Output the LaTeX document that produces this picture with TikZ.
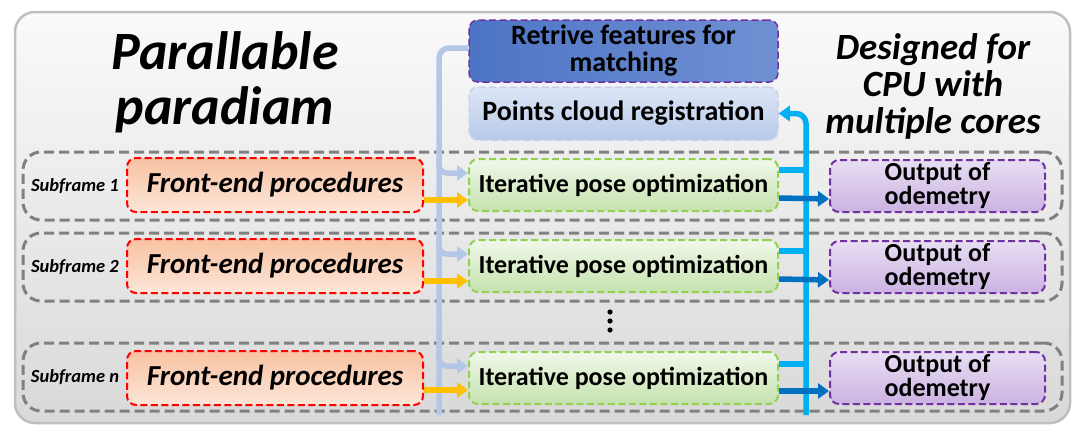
\documentclass[tikz,border=0pt]{standalone}
\usepackage{fontspec}
\setmainfont{Carlito}
\usetikzlibrary{arrows.meta}
\definecolor{framegray}{HTML}{BFBFBF}
\definecolor{subgray}{HTML}{808080}
\definecolor{lightblu}{HTML}{B4C7E7}
\definecolor{cyanblu}{HTML}{00B0F0}
\definecolor{darkblu}{HTML}{0070C0}
\definecolor{amber}{HTML}{FFC000}
\definecolor{redline}{HTML}{FF0000}
\definecolor{greenline}{HTML}{92D050}
\definecolor{purpline}{HTML}{7030A0}
\definecolor{feTop}{HTML}{F8C2A2}
\definecolor{feBot}{HTML}{FCE6D8}
\definecolor{itTop}{HTML}{F0F8EA}
\definecolor{itBot}{HTML}{C6E2AE}
\definecolor{outTop}{HTML}{E8DEF3}
\definecolor{outBot}{HTML}{CBB3E2}
\definecolor{retDark}{HTML}{4D74C5}
\definecolor{retLight}{HTML}{B6C8EA}
\definecolor{retRight}{HTML}{7090D3}
\definecolor{pcrTop}{HTML}{DDE6F5}
\definecolor{pcrBot}{HTML}{B7C9EA}
\definecolor{pcrEdge}{HTML}{C8D3E8}
\begin{document}
\begin{tikzpicture}[x=1pt, y=-1pt,
  framebox/.style={draw=framegray, line width=2.5pt, rounded corners=20pt, top color=gray!4, bottom color=gray!30},
  subbox/.style={draw=subgray, rounded corners=18pt, dash pattern=on 10pt off 5pt, line width=3pt, minimum width=1039pt, minimum height=68pt, inner sep=0pt},
  boxbase/.style={rounded corners=9pt, dash pattern=on 7pt off 3.5pt, line width=2pt, inner sep=0pt, align=center},
  febox/.style={boxbase, draw=redline, top color=feTop, bottom color=feBot, minimum width=296pt, minimum height=54pt, font=\fontsize{29}{31}\selectfont\bfseries\itshape},
  itbox/.style={boxbase, draw=greenline, top color=itTop, bottom color=itBot, minimum width=309pt, minimum height=52pt, font=\fontsize{26}{28}\selectfont\bfseries},
  outbox/.style={boxbase, draw=purpline, top color=outTop, bottom color=outBot, minimum width=215pt, minimum height=52pt, font=\fontsize{26}{24}\selectfont\bfseries},
  retbox/.style={boxbase, line width=1.5pt, draw=purpline, left color=retDark, middle color=retLight, right color=retRight, minimum width=309pt, minimum height=62pt, font=\fontsize{28}{27}\selectfont\bfseries},
  pcrbox/.style={boxbase, line width=1.5pt, draw=pcrEdge, top color=pcrTop, bottom color=pcrBot, minimum width=309pt, minimum height=53pt, font=\fontsize{28}{30}\selectfont\bfseries},
  sublabel/.style={font=\fontsize{18.5}{20}\selectfont\bfseries\itshape, inner sep=0pt},
  bigtitle/.style={align=center, font=\fontsize{54}{55}\selectfont\bfseries\itshape},
  cputitle/.style={align=center, font=\fontsize{37}{37}\selectfont\bfseries\itshape},
  lbline/.style={draw=lightblu, line width=5.5pt},
  lbarrow/.style={lbline, -{Triangle[length=11pt,width=15pt]}},
  cyline/.style={draw=cyanblu, line width=5.5pt},
  cyarrow/.style={cyline, -{Triangle[length=11pt,width=15pt]}},
  dbarrow/.style={draw=darkblu, line width=5.5pt, -{Triangle[length=11pt,width=15pt]}},
  orarrow/.style={draw=amber, line width=5.5pt, -{Triangle[length=11pt,width=15pt]}}]
  \useasboundingbox (0,0) rectangle (1080,434);
  \draw[framebox] (15,12) rectangle (1070,423);
  \node[bigtitle] (par) at (225,82) {Parallable\\paradiam};
  \node[cputitle] (cpu) at (933,86) {Designed for\\CPU with\\multiple cores};
  \node[retbox] (ret) at (623.5,51) {Retrive features for\\matching};
  \node[pcrbox] (pcr) at (623.5,113.5) {Points cloud registration};

  \node[subbox] (sub1) at (542.5,186) {};
  \node[subbox] (sub2) at (542.5,267) {};
  \node[subbox] (subn) at (542.5,377) {};
  \node[sublabel] (lab1) at (75,186) {Subframe 1};
  \node[sublabel] (lab2) at (75,267) {Subframe 2};
  \node[sublabel] (labn) at (75,377) {Subframe n};

  \node[febox] (fe1) at (275,185) {Front-end procedures};
  \node[febox] (fe2) at (275,266) {Front-end procedures};
  \node[febox] (fen) at (275,378) {Front-end procedures};
  \node[itbox] (it1) at (623.5,185) {Iterative pose optimization};
  \node[itbox] (it2) at (623.5,266) {Iterative pose optimization};
  \node[itbox] (itn) at (623.5,378) {Iterative pose optimization};
  \node[outbox] (out1) at (937.5,186) {Output of\\odemetry};
  \node[outbox] (out2) at (937.5,267) {Output of\\odemetry};
  \node[outbox] (outn) at (937.5,378) {Output of\\odemetry};
  \foreach \yy in {312,321,330} \fill (610,\yy) circle (2.6pt);

  \coordinate (lbbot) at (439,415);
  \coordinate (cybot) at (806,415);
  \draw[lbline, rounded corners=10pt] ([yshift=3pt]ret.west) -| (lbbot);
  \draw[lbarrow, rounded corners=8pt] (lbbot |- it1.north) |- ([yshift=12pt]it1.west);
  \draw[lbarrow, rounded corners=8pt] (lbbot |- it2.north) |- ([yshift=12pt]it2.west);
  \draw[lbarrow, rounded corners=8pt] (lbbot |- itn.north) |- ([yshift=12pt]itn.west);
  \draw[orarrow] ([yshift=-15pt]fe1.east) -- ([yshift=-15pt]it1.west);
  \draw[orarrow] ([yshift=-15pt]fe2.east) -- ([yshift=-15pt]it2.west);
  \draw[orarrow] ([yshift=-12pt]fen.east) -- ([yshift=-12pt]itn.west);
  \draw[cyarrow, rounded corners=10pt] (cybot) |- (pcr.east);
  \draw[cyline] ([yshift=15pt]it1.east) -- ([yshift=15pt]it1.east -| cybot);
  \draw[cyline] ([yshift=15pt]it2.east) -- ([yshift=15pt]it2.east -| cybot);
  \draw[cyline] ([yshift=14pt]itn.east) -- ([yshift=14pt]itn.east -| cybot);
  \draw[dbarrow] ([yshift=-13pt]it1.east) -- ([yshift=-13pt]out1.west);
  \draw[dbarrow] ([yshift=-13pt]it2.east) -- ([yshift=-13pt]out2.west);
  \draw[dbarrow] ([yshift=-13pt]itn.east) -- ([yshift=-13pt]outn.west);
\end{tikzpicture}
\end{document}
